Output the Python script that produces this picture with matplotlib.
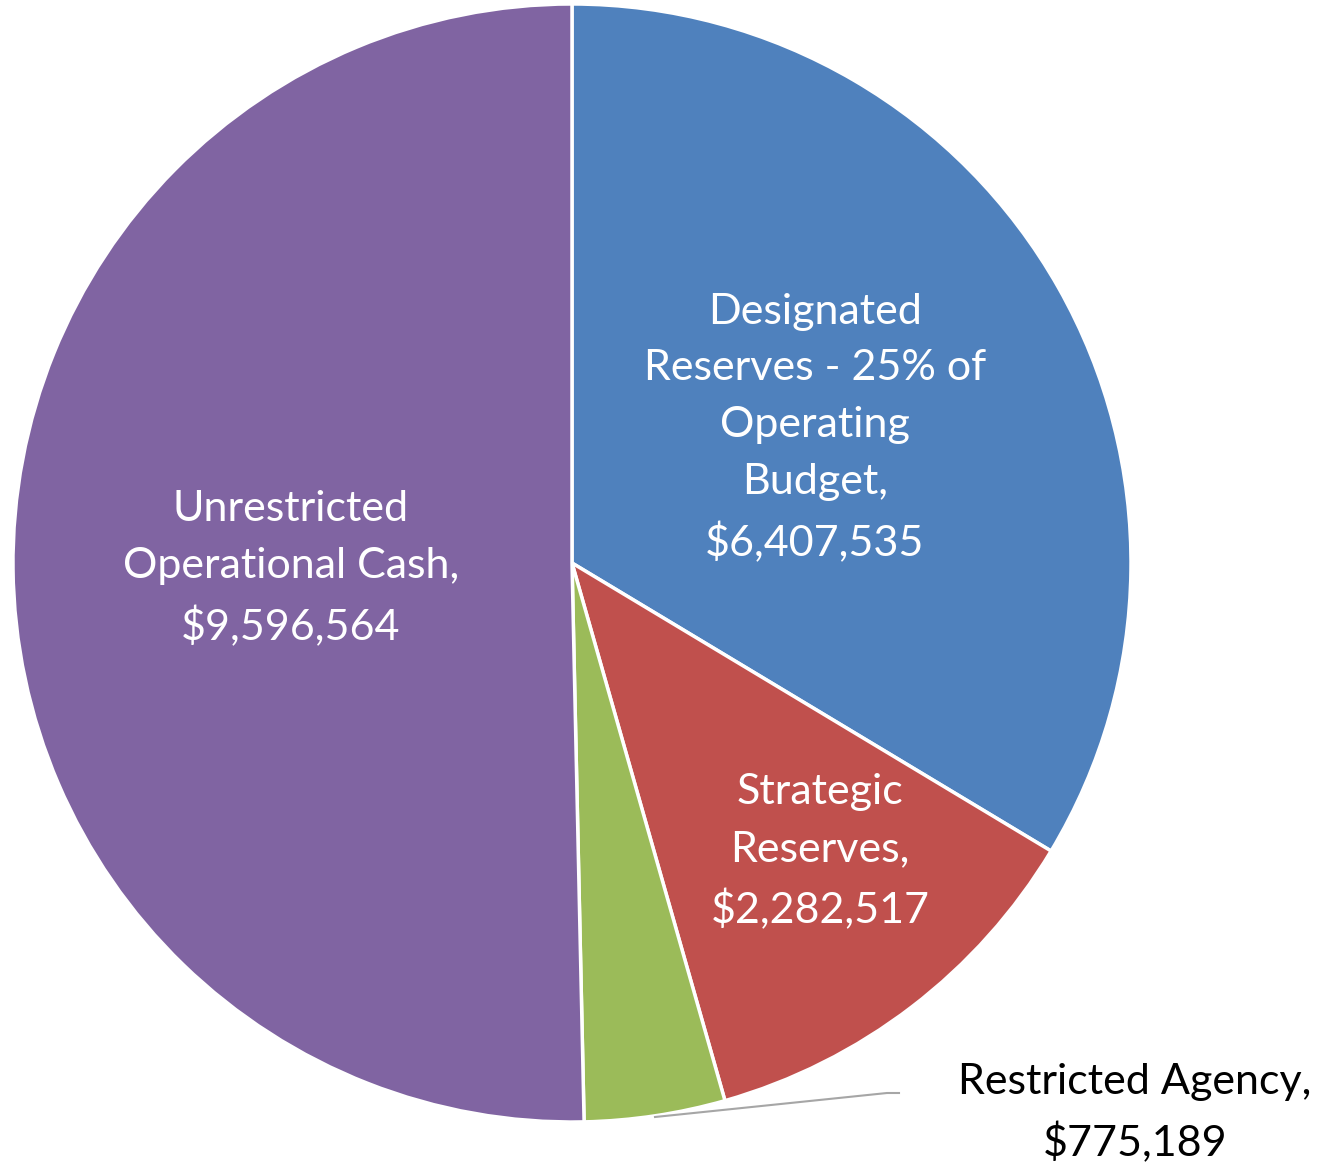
import matplotlib.pyplot as plt

categories = ["Designated\nReserves - 25% of\nOperating\nBudget,",
              "Strategic\nReserves,",
              "Restricted Agency,",
              "Unrestricted\nOperational Cash,"]
values = [6407535, 2282517, 775189, 9596564]
colors = ["#4F81BD", "#C0504D", "#9BBB59", "#8064A2"]

W, H = 1324, 1166
cx, cy, R = 572, 563, 559

fig = plt.figure(figsize=(W / 100, H / 100), dpi=100)
ax = fig.add_axes([0, 0, 1, 1])

ax.pie(values, colors=colors, startangle=90, counterclock=False,
       radius=1, center=(0, 0), frame=True,
       wedgeprops=dict(edgecolor="white", linewidth=2.5))
ax.set_xlim(-cx / R, (W - cx) / R)
ax.set_ylim(-(H - cy) / R, cy / R)
ax.axis("off")

def px(x, y):
    return (x - cx) / R, (cy - y) / R

# label positions (pixel centres in the reference)
label_pos = [(815, 428), (820, 852), (1135, 1113), (291, 569)]
label_col = ["white", "white", "black", "white"]
font = "Lato"
for cat, v, (lx, ly), c in zip(categories, values, label_pos, label_col):
    ax.text(*px(lx, ly), "%s\n${:,}".replace("%s", cat).format(v),
            ha="center", va="center", color=c, fontsize=31,
            family=font, linespacing=1.61)

# leader line for the small slice
xs, ys = zip(px(655, 1117), px(887, 1093), px(899, 1093))
ax.plot(xs, ys, color="#A6A6A6", lw=1.5, clip_on=False)

fig.savefig("out.png", dpi=100)
